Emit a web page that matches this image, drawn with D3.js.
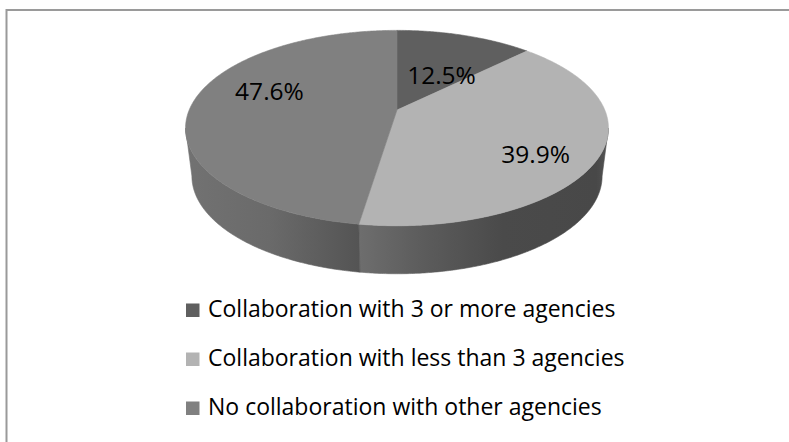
<!DOCTYPE html>
<html>
<head>
<meta charset="utf-8">
<script src="https://cdn.jsdelivr.net/npm/d3@7"></script>
<style>
  html, body { margin: 0; padding: 0; background: #fff; }
  svg { display: block; }
  text { font-family: "Open Sans", Lato, sans-serif; fill: #000; }
</style>
</head>
<body>
<svg id="chart" width="789" height="442"></svg>
<script>
// Survey shares of agencies by level of collaboration
const categories = [
  "Collaboration with 3 or more agencies",
  "Collaboration with less than 3 agencies",
  "No collaboration with other agencies"
];
const shares = [12.5, 39.9, 47.6];
const valueLabels = ["12.5%", "39.9%", "47.6%"];

// Styling, kept apart from the data
const topColors = ["#5f5f5f", "#b3b3b3", "#808080"];
const wallStops = [
  [[0, "#5a5a5a"], [1, "#404040"]],
  [[0.40, "#6f6f6f"], [0.55, "#5d5d5d"], [0.75, "#4a4a4a"], [0.97, "#484848"], [1, "#555555"]],
  [[0, "#727272"], [0.20, "#6a6a6a"], [0.41, "#545454"], [1, "#4a4a4a"]]
];
// Label anchors in pie-relative polar terms (radius fraction, degrees clockwise from 12 o'clock)
const labelAnchors = [[0.46, 30], [0.75, 125], [0.67, 288]];

const svg = d3.select("#chart");

// Chart frame
svg.append("rect")
  .attr("x", 6.5).attr("y", 10).attr("width", 900).attr("height", 600)
  .attr("fill", "none").attr("stroke", "#9a9a9a").attr("stroke-width", 2);

// Perspective-projected disc: apex, half width, vertical radius, foreshortening and thickness
const disc = { cx: 397, cy: 110, a: 207.8, ry: 94.35, k: 0.185, depth: 48, bottomScale: 0.97 };

function topPoint(t, r = 1) {
  const u = r * Math.sin(t), v = r * Math.cos(t), w = 1 + disc.k * v;
  return [disc.cx + disc.a * u / w, disc.cy - disc.ry * v / w];
}
function bottomPoint(t) {
  const u = Math.sin(t), v = Math.cos(t), w = 1 + disc.k * v;
  return [disc.cx + disc.bottomScale * disc.a * u / w, disc.cy - disc.ry * v / w + disc.depth];
}
function arcPoints(fn, a0, a1) {
  const n = Math.max(2, Math.ceil(Math.abs(a1 - a0) / (Math.PI / 360)));
  return d3.range(n + 1).map(i => fn(a0 + (a1 - a0) * i / n));
}

const arcs = d3.pie().sort(null).value(d => d)(shares);
const line = d3.line();

// Wall shading gradients
const defs = svg.append("defs");
wallStops.forEach((stops, i) => {
  const g = defs.append("linearGradient")
    .attr("id", "wall" + i)
    .attr("gradientUnits", "userSpaceOnUse")
    .attr("x1", 185).attr("x2", 609).attr("y1", 0).attr("y2", 0);
  stops.forEach(([o, c]) => g.append("stop").attr("offset", o).attr("stop-color", c));
});

// Visible part of the rim lies between the two silhouette angles
const silhouette = Math.acos(-disc.k);
const wallLayer = svg.append("g");
arcs.forEach((d, i) => {
  const lo = Math.max(d.startAngle, silhouette);
  const hi = Math.min(d.endAngle, 2 * Math.PI - silhouette);
  if (lo >= hi) return;
  const pts = arcPoints(topPoint, lo, hi).concat(arcPoints(bottomPoint, hi, lo));
  wallLayer.append("path")
    .attr("d", line(pts) + "Z")
    .attr("fill", `url(#wall${i})`)
    .attr("stroke", `url(#wall${i})`)
    .attr("stroke-width", 0.6);
});

// Top faces of the slices
const topLayer = svg.append("g");
arcs.forEach((d, i) => {
  const pts = [[disc.cx, disc.cy]].concat(arcPoints(topPoint, d.startAngle, d.endAngle));
  topLayer.append("path")
    .attr("d", line(pts) + "Z")
    .attr("fill", topColors[i])
    .attr("stroke", topColors[i])
    .attr("stroke-width", 0.6)
    .attr("stroke-linejoin", "round");
});

// Percentage labels
svg.append("g").selectAll("text")
  .data(arcs)
  .join("text")
  .attr("transform", (d, i) => {
    const [r, deg] = labelAnchors[i];
    const [x, y] = topPoint(deg * Math.PI / 180, r);
    return `translate(${x},${y})`;
  })
  .attr("text-anchor", "middle")
  .attr("dy", "0.36em")
  .attr("font-size", 24.5)
  .text((d, i) => valueLabels[i]);

// Legend
const legendY = d3.scalePoint().domain(categories).range([317, 415]);
const legend = svg.append("g").selectAll("g")
  .data(categories)
  .join("g")
  .attr("transform", d => `translate(186,${legendY(d)})`);
legend.append("rect")
  .attr("x", 0).attr("y", -13.5).attr("width", 13.5).attr("height", 13.5)
  .attr("fill", (d, i) => topColors[i]);
legend.append("text")
  .attr("x", 22).attr("y", 0)
  .attr("font-size", 23)
  .text(d => d);
</script>
</body>
</html>
